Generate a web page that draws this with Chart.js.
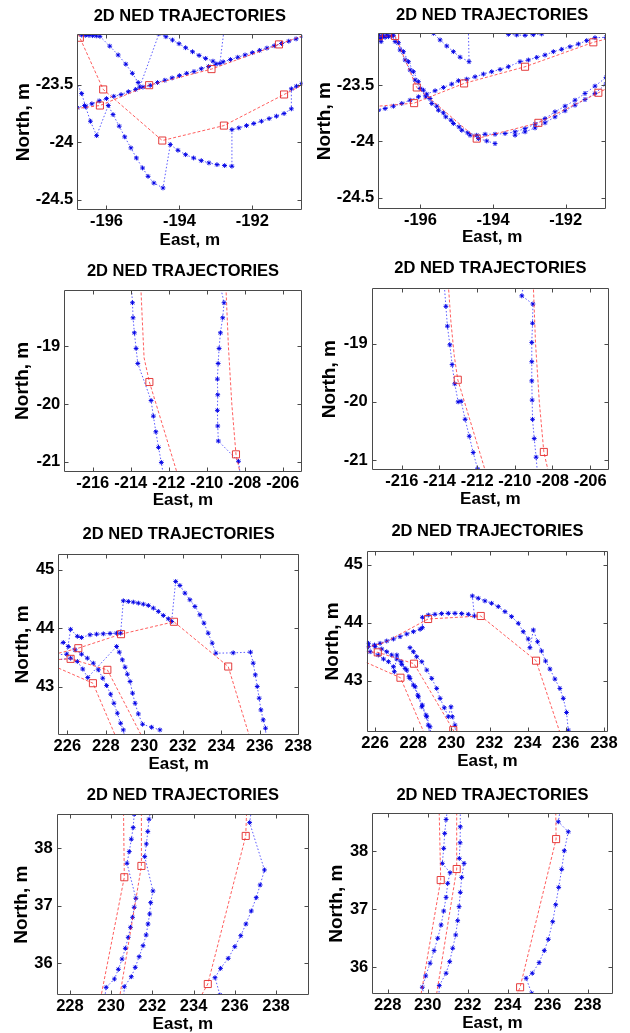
<!DOCTYPE html>
<html><head><meta charset="utf-8">
<script src="https://cdn.jsdelivr.net/npm/chart.js@4.4.1/dist/chart.umd.min.js"></script>
<style>
body{margin:0;background:#fff}
#wrap{position:relative;width:630px;height:1033px;background:#fff}
canvas{position:absolute}
</style></head><body><div id="wrap"></div>
<script>
// ---------- DATA (East, North pairs in metres) ----------
const titleText = '2D NED TRAJECTORIES';
const xLabel = 'East, m';
const yLabel = 'North, m';

// Panel 1
const p1Blue1 = [[-197.0,-23.72],[-196.8,-23.70],[-196.6,-23.68],[-196.4,-23.665],[-196.2,-23.64],[-196.0,-23.62],[-195.8,-23.60],[-195.6,-23.585],[-195.4,-23.56],[-195.2,-23.54],[-195.0,-23.52],[-194.8,-23.505],[-194.6,-23.48],[-194.4,-23.46],[-194.2,-23.44],[-194.0,-23.42],[-193.8,-23.40],[-193.6,-23.385],[-193.4,-23.36],[-193.2,-23.34],[-193.0,-23.32],[-192.8,-23.30],[-192.6,-23.28],[-192.4,-23.26],[-192.2,-23.24],[-192.0,-23.22],[-191.8,-23.20],[-191.6,-23.18],[-191.4,-23.16],[-191.2,-23.14],[-191.0,-23.12],[-190.8,-23.10],[-190.6,-23.08],[-190.4,-23.06]];
const p1Blue2 = [[-196.95,-23.066],[-196.68,-23.067],[-196.58,-23.069],[-196.48,-23.07],[-196.38,-23.072],[-196.28,-23.074],[-196.18,-23.078],[-195.91,-23.163],[-195.68,-23.24],[-195.47,-23.32],[-195.29,-23.40],[-195.13,-23.48],[-195.09,-23.52],[-194.56,-23.055],[-194.37,-23.081],[-194.19,-23.11],[-194.01,-23.142],[-193.83,-23.177],[-193.64,-23.212],[-193.46,-23.244],[-193.28,-23.27],[-193.08,-23.294],[-192.89,-23.314],[-192.76,-22.98]];
const p1Blue3 = [[-196.9,-23.42],[-196.68,-23.576],[-196.57,-23.692],[-196.44,-23.817],[-196.27,-23.942],[-195.95,-23.68],[-195.82,-23.759],[-195.65,-23.86],[-195.5,-23.953],[-195.33,-24.049],[-195.18,-24.137],[-195.01,-24.224],[-194.86,-24.297],[-194.7,-24.355],[-194.45,-24.398],[-194.25,-24.02],[-194.04,-24.07],[-193.83,-24.108],[-193.61,-24.137],[-193.4,-24.16],[-193.19,-24.18],[-192.97,-24.195],[-192.76,-24.203],[-192.56,-24.209],[-192.56,-23.89],[-192.37,-23.875],[-192.16,-23.855],[-191.96,-23.837],[-191.75,-23.817],[-191.54,-23.794],[-191.34,-23.773],[-191.13,-23.75],[-190.93,-23.709],[-190.93,-23.535],[-190.79,-23.512],[-190.64,-23.488],[-190.45,-23.46]];
const p1Red1 = [[-196.95,-22.94],[-196.73,-23.09],[-196.09,-23.54],[-194.47,-23.985],[-192.78,-23.855],[-191.13,-23.584],[-190.3,-23.448]];
const p1Red2 = [[-197.1,-23.72],[-196.8,-23.706],[-196.18,-23.68],[-194.83,-23.503],[-193.12,-23.363],[-191.27,-23.148],[-190.3,-23.035]];
const p1Marks = [[-196.73,-23.09],[-196.09,-23.54],[-194.47,-23.985],[-192.78,-23.855],[-191.13,-23.584],[-196.18,-23.68],[-194.83,-23.503],[-193.12,-23.363],[-191.27,-23.148]];

// Panel 2
const p2Blue1 = [[-197.4,-23.74],[-197.156,-23.723],[-196.972,-23.708],[-196.743,-23.687],[-196.514,-23.663],[-196.284,-23.634],[-196.055,-23.604],[-195.826,-23.58],[-195.596,-23.55],[-195.367,-23.521],[-195.138,-23.491],[-194.954,-23.461],[-194.725,-23.447],[-194.495,-23.426],[-194.266,-23.402],[-194.037,-23.381],[-193.807,-23.361],[-193.578,-23.337],[-193.257,-23.292],[-193.028,-23.277],[-192.798,-23.254],[-192.569,-23.233],[-192.339,-23.203],[-192.11,-23.182],[-191.881,-23.159],[-191.651,-23.135],[-191.422,-23.105],[-191.193,-23.079],[-190.89,-23.076],[-190.6,-23.07]];
const p2Blue2 = [[-196.9,-23.0],[-196.697,-23.114],[-196.56,-23.188],[-196.422,-23.277],[-196.284,-23.366],[-196.147,-23.455],[-196.009,-23.53],[-195.853,-23.604],[-195.688,-23.663],[-195.505,-23.723],[-195.303,-23.782],[-195.092,-23.841],[-194.862,-23.901],[-194.633,-23.945],[-194.404,-23.975],[-194.174,-23.996],[-193.945,-24.019]];
const p2Blue3 = [[-196.85,-23.0],[-196.606,-23.123],[-196.468,-23.203],[-196.33,-23.292],[-196.193,-23.381],[-196.055,-23.47],[-195.917,-23.545],[-195.734,-23.619],[-195.55,-23.687],[-195.367,-23.746],[-195.156,-23.812],[-194.936,-23.871],[-194.697,-23.924],[-194.45,-23.945],[-194.22,-23.936],[-193.945,-23.936],[-193.67,-23.93],[-193.394,-23.915],[-193.119,-23.886],[-192.844,-23.847],[-192.569,-23.797],[-192.294,-23.737],[-192.018,-23.687],[-191.743,-23.634],[-191.468,-23.574],[-191.193,-23.509],[-190.89,-23.432],[-190.6,-23.36]];
const p2Blue4 = [[-193.394,-23.945],[-193.119,-23.915],[-192.844,-23.88],[-192.569,-23.835],[-192.294,-23.782],[-192.018,-23.728],[-191.743,-23.678],[-191.468,-23.628],[-191.193,-23.574],[-190.89,-23.491],[-190.6,-23.42]];
const p2Blue5 = [[-195.7,-23.0],[-195.642,-23.04],[-195.459,-23.099],[-195.275,-23.153],[-195.092,-23.203],[-194.908,-23.252],[-194.661,-23.292],[-194.68,-23.0]];
const p2Blue6 = [[-193.8,-23.0],[-193.578,-23.049],[-193.349,-23.055],[-193.119,-23.058],[-192.89,-23.052],[-192.661,-23.046],[-192.5,-23.0]];
const p2Blue7 = [[-197.138,-23.055],[-197.11,-23.085],[-197.083,-23.114],[-197.064,-23.07],[-197.018,-23.064],[-196.972,-23.076],[-196.927,-23.055],[-196.881,-23.07],[-196.807,-23.064],[-196.743,-23.058]];
const p2Red1 = [[-197.4,-23.065],[-197.14,-23.066],[-196.697,-23.064],[-196.101,-23.521],[-194.45,-23.975],[-192.752,-23.835],[-191.101,-23.568],[-190.6,-23.487]];
const p2Red2 = [[-197.4,-23.69],[-197.156,-23.687],[-196.174,-23.66],[-194.798,-23.485],[-193.119,-23.337],[-191.239,-23.12],[-190.89,-23.091],[-190.6,-23.08]];
const p2Marks = [[-197.14,-23.066],[-196.697,-23.064],[-196.101,-23.521],[-194.45,-23.975],[-192.752,-23.835],[-191.101,-23.568],[-196.174,-23.66],[-194.798,-23.485],[-193.119,-23.337],[-191.239,-23.12]];

// Panel 3
const p3Blue1 = [[-213.98,-17.9],[-213.91,-18.25],[-213.88,-18.51],[-213.81,-18.77],[-213.72,-19.04],[-213.63,-19.3],[-212.93,-19.94],[-212.81,-20.21],[-212.68,-20.48],[-212.54,-20.75],[-212.39,-21.01],[-212.25,-21.3]];
const p3Blue2 = [[-209.32,-17.9],[-209.09,-18.25],[-209.16,-18.51],[-209.28,-18.77],[-209.35,-19.04],[-209.4,-19.3],[-209.44,-19.57],[-209.42,-19.84],[-209.44,-20.11],[-209.42,-20.38],[-209.39,-20.64],[-208.33,-20.99],[-208.2,-21.3]];
const p3Red1 = [[-213.48,-17.9],[-213.4,-18.5],[-213.3,-19.2],[-213.02,-19.62],[-211.46,-21.3]];
const p3Red2 = [[-209.0,-17.9],[-208.86,-19.0],[-208.68,-20.0],[-208.46,-20.87],[-208.17,-21.3]];
const p3Marks = [[-213.02,-19.62],[-208.46,-20.87]];

// Panel 4
const p4Blue1 = [[-213.77,-17.9],[-213.66,-18.36],[-213.58,-18.7],[-213.45,-19.02],[-213.33,-19.36],[-213.19,-19.69],[-213.01,-20.0],[-212.85,-19.99],[-212.64,-20.3],[-212.42,-20.59],[-212.21,-20.87],[-211.98,-21.15],[-211.95,-21.3]];
const p4Blue2 = [[-209.5,-17.9],[-209.63,-18.18],[-209.04,-18.32],[-209.06,-18.65],[-209.1,-18.98],[-209.1,-19.31],[-209.1,-19.64],[-209.08,-19.97],[-209.06,-20.3],[-208.97,-20.63],[-208.87,-20.95],[-208.78,-21.3]];
const p4Red1 = [[-213.55,-17.9],[-213.4,-18.6],[-213.22,-19.2],[-213.03,-19.62],[-211.46,-21.3]];
const p4Red2 = [[-209.03,-17.9],[-208.9,-19.0],[-208.7,-20.0],[-208.46,-20.86],[-208.15,-21.3]];
const p4Marks = [[-213.03,-19.62],[-208.46,-20.86]];

// Panel 5
const p5Blue1 = [[225.3,43.54],[225.97,43.554],[226.17,43.98],[226.52,43.86],[226.74,43.84],[227.18,43.886],[227.52,43.897],[227.87,43.903],[228.22,43.909],[228.56,43.914],[228.77,43.914],[228.91,44.469],[229.17,44.457],[229.43,44.446],[229.69,44.429],[229.95,44.411],[230.21,44.389],[230.47,44.343],[230.73,44.286],[230.99,44.217],[231.25,44.16],[231.42,44.114],[231.63,44.8],[231.85,44.731],[232.11,44.6],[232.37,44.486],[232.63,44.371],[232.89,44.229],[233.1,44.086],[233.32,43.914],[233.53,43.743],[233.72,43.571],[234.62,43.577],[235.52,43.589],[235.66,43.4],[235.77,43.2],[235.87,43.0],[235.97,42.8],[236.06,42.6],[236.18,42.429],[236.3,42.286],[236.35,42.0]];
const p5Blue2 = [[225.3,43.45],[226.17,43.486],[226.52,43.43],[226.8,43.3],[227.06,43.154],[228.56,43.686],[228.7,43.589],[228.86,43.457],[229.0,43.331],[229.12,43.211],[229.26,43.086],[229.39,42.886],[229.52,42.714],[229.69,42.531],[229.91,42.354],[230.38,42.303],[230.81,42.257]];
const p5Blue3 = [[225.3,43.7],[225.79,43.754],[226.05,43.686],[226.4,43.629],[226.74,43.554],[227.04,43.486],[227.35,43.4],[227.61,43.286],[227.84,43.143],[228.04,43.017],[228.25,42.869],[228.42,42.714],[228.6,42.543],[228.77,42.371],[228.91,42.257],[229.0,42.1]];
const p5Red1 = [[225.3,43.55],[226.57,43.657],[228.79,43.897],[231.54,44.109],[234.36,43.343],[235.6,42.0]];
const p5Red2 = [[225.3,43.46],[226.17,43.474],[228.08,43.286],[230.1,42.0]];
const p5Red3 = [[225.3,43.35],[227.33,43.057],[228.7,42.0]];
const p5Marks = [[226.17,43.474],[226.57,43.657],[227.33,43.057],[228.08,43.286],[228.79,43.897],[231.54,44.109],[234.36,43.343]];

// Panel 6
const p6Blue1 = [[225.3,43.57],[225.65,43.588],[225.97,43.617],[226.26,43.646],[226.61,43.686],[226.96,43.72],[227.31,43.761],[227.66,43.807],[228.01,43.847],[228.36,43.888],[228.48,43.916],[228.48,44.095],[228.79,44.135],[229.14,44.147],[229.49,44.159],[229.84,44.164],[230.19,44.164],[230.54,44.159],[230.89,44.147],[231.21,44.118],[231.1,44.464],[231.41,44.424],[231.76,44.378],[232.11,44.337],[232.46,44.28],[232.81,44.193],[233.16,44.107],[233.51,43.991],[233.77,43.847],[234.03,43.72],[234.12,43.571],[234.3,43.876],[234.52,43.674],[234.73,43.513],[234.94,43.34],[235.17,43.202],[235.43,43.029],[235.69,42.867],[235.87,42.695],[236.04,42.452],[236.13,42.147],[236.16,42.0]];
const p6Blue2 = [[225.3,43.66],[225.65,43.646],[226.0,43.588],[226.35,43.548],[226.61,43.501],[226.87,43.444],[227.14,43.375],[227.4,43.282],[227.66,43.184],[227.83,43.04],[228.1,42.896],[228.27,42.723],[228.45,42.55],[228.71,42.378],[228.88,42.205],[228.95,42.0]];
const p6Blue3 = [[225.3,43.52],[225.74,43.501],[226.17,43.444],[226.44,43.375],[226.7,43.329],[226.96,43.242],[227.01,43.156],[227.14,43.444],[227.36,43.329],[227.57,43.213],[227.78,43.069],[228.01,42.925],[228.24,42.752],[228.48,42.579],[228.67,42.406],[228.79,42.233],[228.9,42.0]];
const p6Blue4 = [[227.83,43.571],[228.01,43.501],[228.18,43.415],[228.45,43.329],[228.71,43.184],[228.97,43.04],[229.23,42.867],[229.41,42.695],[229.63,42.533],[229.84,42.378],[229.98,42.55],[230.05,42.378],[230.19,42.233],[230.25,42.0]];
const p6Red1 = [[225.3,43.55],[226.5,43.66],[228.78,44.066],[231.54,44.118],[234.44,43.346],[235.8,42.0]];
const p6Red2 = [[225.3,43.5],[226.14,43.49],[228.04,43.294],[230.1,42.147],[230.35,42.0]];
const p6Red3 = [[225.3,43.35],[227.33,43.052],[228.7,42.0]];
const p6Marks = [[226.14,43.49],[227.33,43.052],[228.04,43.294],[228.78,44.066],[231.54,44.118],[234.44,43.346],[230.1,42.147]];

// Panel 7
const p7Blue1 = [[231.15,38.7],[231.12,38.591],[231.07,38.359],[230.98,38.157],[230.88,37.942],[230.77,37.739],[231.2,37.13],[231.12,36.974],[231.04,36.8],[230.94,36.626],[230.83,36.452],[230.69,36.261],[230.53,36.075],[230.35,35.896],[230.16,35.728],[229.76,35.583],[229.65,35.3]];
const p7Blue2 = [[231.95,38.7],[231.84,38.504],[231.78,38.29],[231.71,38.075],[231.63,37.855],[232.03,37.258],[231.92,37.055],[231.87,36.858],[231.79,36.684],[231.7,36.493],[231.55,36.307],[231.36,36.116],[231.17,35.93],[230.98,35.768],[230.64,35.594],[230.6,35.3]];
const p7Blue3 = [[236.82,38.7],[236.72,38.446],[237.44,37.623],[237.23,37.362],[237.04,37.142],[236.8,36.91],[236.54,36.684],[236.29,36.481],[236.0,36.29],[235.68,36.087],[235.31,35.913],[235.04,35.751],[235.28,35.449],[235.33,35.3]];
const p7Red1 = [[230.6,38.7],[230.64,37.496],[229.44,35.3]];
const p7Red2 = [[231.47,38.7],[231.47,37.693],[230.36,35.3]];
const p7Red3 = [[236.58,38.7],[236.53,38.214],[234.69,35.641],[234.15,35.3]];
const p7Marks = [[230.64,37.496],[231.47,37.693],[236.53,38.214],[234.69,35.641]];

// Panel 8
const p8Blue1 = [[231.0,38.75],[230.92,38.544],[230.85,38.304],[230.8,38.046],[230.73,37.788],[231.12,37.628],[231.0,37.444],[230.92,37.203],[230.8,36.968],[230.67,36.728],[230.5,36.499],[230.32,36.287],[230.12,36.069],[229.9,35.851],[229.73,35.656],[229.9,35.4]];
const p8Blue2 = [[231.63,38.75],[231.63,38.418],[231.62,38.143],[231.58,37.874],[231.82,37.788],[231.7,37.547],[231.63,37.289],[231.57,37.043],[231.5,36.802],[231.4,36.556],[231.25,36.327],[231.1,36.097],[230.92,35.897],[230.58,35.685],[230.55,35.4]];
const p8Blue3 = [[236.65,38.75],[236.53,38.504],[237.03,38.332],[236.83,38.006],[236.7,37.685],[236.55,37.375],[236.4,37.077],[236.25,36.785],[236.03,36.481],[235.83,36.287],[235.57,36.08],[235.23,35.897],[234.92,35.811],[235.2,35.553],[235.25,35.4]];
const p8Red1 = [[230.57,38.75],[230.65,37.501],[229.6,35.4]];
const p8Red2 = [[231.45,38.75],[231.45,37.691],[230.38,35.4]];
const p8Red3 = [[236.4,38.75],[236.42,38.206],[234.62,35.656],[234.3,35.4]];
const p8Marks = [[230.65,37.501],[231.45,37.691],[236.42,38.206],[234.62,35.656]];

// Axis ranges and tick steps
const xRanges = [[-196.8,-190.63],[-197.16,-190.89],[-217.5,-205.0],[-217.6,-205.0],[225.53,238.04],[225.56,238.23],[227.36,239.6],[227.23,239.25]];
const yRanges = [[-24.59,-23.06],[-24.60,-23.04],[-21.17,-18.03],[-21.17,-18.05],[42.17,45.27],[42.12,45.24],[35.45,38.59],[35.54,38.65]];
const xSteps = [2,2,2,2,2,2,2,2];
const ySteps = [0.5,0.5,1,1,1,1,1,1];

// ---------- LAYOUT (page geometry, px) ----------
const geoms = [
 {cx:0,cy:0,cw:315,ch:255,L:77.3,T:34.3,R:302.3,B:210,titleY:16.7,northX:24,eastY:240.7},
 {cx:315,cy:0,cw:315,ch:255,L:378.3,T:33.3,R:606,B:209,titleY:15.5,northX:325,eastY:237.5},
 {cx:0,cy:255,cw:315,ch:260,L:64.3,T:290,R:301.7,B:471.7,titleY:271,northX:23,eastY:500},
 {cx:315,cy:255,cw:315,ch:260,L:371.7,T:288.3,R:609,B:470,titleY:268,northX:330,eastY:499},
 {cx:0,cy:515,cw:315,ch:265,L:58.3,T:554,R:299,B:735,titleY:534.7,northX:23,eastY:764},
 {cx:315,cy:515,cw:315,ch:265,L:366.7,T:551,R:608.3,B:731.7,titleY:531.3,northX:332.5,eastY:761},
 {cx:0,cy:780,cw:315,ch:253,L:56.7,T:814.3,R:311.7,B:995,titleY:795,northX:21.7,eastY:1024},
 {cx:315,cy:780,cw:315,ch:253,L:372.3,T:813.3,R:612.7,B:994,titleY:795,northX:337,eastY:1023}
];
const panelBlue = [[p1Blue1,p1Blue2,p1Blue3],[p2Blue1,p2Blue2,p2Blue3,p2Blue4,p2Blue5,p2Blue6,p2Blue7],[p3Blue1,p3Blue2],[p4Blue1,p4Blue2],[p5Blue1,p5Blue2,p5Blue3],[p6Blue1,p6Blue2,p6Blue3,p6Blue4],[p7Blue1,p7Blue2,p7Blue3],[p8Blue1,p8Blue2,p8Blue3]];
const panelRed = [[p1Red1,p1Red2],[p2Red1,p2Red2],[p3Red1,p3Red2],[p4Red1,p4Red2],[p5Red1,p5Red2,p5Red3],[p6Red1,p6Red2,p6Red3],[p7Red1,p7Red2,p7Red3],[p8Red1,p8Red2,p8Red3]];
const panelMarks = [p1Marks,p2Marks,p3Marks,p4Marks,p5Marks,p6Marks,p7Marks,p8Marks];

const FONT = "'Liberation Sans', Arial, Helvetica, sans-serif";
const toXY = arr => arr.map(([x,y]) => ({x, y}));

const framePlugin = {
  id: 'frame',
  afterDatasetsDraw(chart) {
    const {ctx, chartArea: a, scales: {x, y}} = chart;
    ctx.save();
    ctx.strokeStyle = '#4a4a4a';
    ctx.lineWidth = 1;
    const l = Math.round(a.left) + 0.5, r = Math.round(a.right) - 0.5;
    const t = Math.round(a.top) + 0.5, b = Math.round(a.bottom) - 0.5;
    ctx.beginPath();
    ctx.rect(l, t, r - l, b - t);
    x.ticks.forEach(tk => {
      const px = Math.round(x.getPixelForValue(tk.value)) + 0.5;
      ctx.moveTo(px, b); ctx.lineTo(px, b - 4);
      ctx.moveTo(px, t); ctx.lineTo(px, t + 4);
    });
    y.ticks.forEach(tk => {
      const py = Math.round(y.getPixelForValue(tk.value)) + 0.5;
      ctx.moveTo(l, py); ctx.lineTo(l + 4, py);
      ctx.moveTo(r, py); ctx.lineTo(r - 4, py);
    });
    ctx.stroke();
    ctx.restore();
  }
};

const wrap = document.getElementById('wrap');
geoms.forEach((g, i) => {
  const cv = document.createElement('canvas');
  cv.width = g.cw; cv.height = g.ch;
  cv.style.left = g.cx + 'px'; cv.style.top = g.cy + 'px';
  cv.style.width = g.cw + 'px'; cv.style.height = g.ch + 'px';
  wrap.appendChild(cv);
  const datasets = [];
  panelRed[i].forEach(tr => datasets.push({
    data: toXY(tr), showLine: true, borderColor: 'rgba(255,40,40,0.75)', borderWidth: 1,
    borderDash: [3, 2], pointRadius: 0, clip: 0
  }));
  datasets.push({
    data: toXY(panelMarks[i]), showLine: false, pointStyle: 'rect', pointRadius: 5,
    pointBorderColor: 'rgba(225,40,40,0.9)', pointBackgroundColor: 'rgba(255,255,255,0)',
    pointBorderWidth: 1, clip: 0
  });
  panelBlue[i].forEach(tr => datasets.push({
    data: toXY(tr), showLine: true, borderColor: 'rgba(20,20,255,0.7)', borderWidth: 1,
    borderDash: [1.5, 2], pointStyle: 'star', pointRadius: 2.4,
    pointBorderColor: 'rgba(0,0,230,0.95)', pointBackgroundColor: 'rgba(0,0,230,0.95)',
    pointBorderWidth: 1, clip: 0
  }));
  new Chart(cv, {
    type: 'scatter',
    data: {datasets},
    options: {
      responsive: false, animation: false, devicePixelRatio: 1,
      events: [],
      layout: {padding: {left: 0, right: g.cx + g.cw - g.R, top: g.titleY - g.cy - 8.25, bottom: 0}},
      plugins: {
        legend: {display: false}, tooltip: {enabled: false},
        title: {display: true, text: titleText, fullSize: false, color: '#000',
          font: {family: FONT, size: 16.5, weight: 'bold', lineHeight: 1},
          padding: {top: 0, bottom: g.T - g.titleY - 8.25}}
      },
      scales: {
        x: {
          type: 'linear', position: 'bottom', min: xRanges[i][0], max: xRanges[i][1],
          afterFit(s) { s.height = g.cy + g.ch - g.B; s.paddingLeft = 0; s.paddingRight = 0; },
          ticks: {stepSize: xSteps[i], includeBounds: false, autoSkip: false, maxRotation: 0, minRotation: 0,
            padding: 3.5, color: '#000', font: {family: FONT, size: 16.5, weight: 'bold', lineHeight: 1},
            callback: v => String(v)},
          grid: {display: false, drawTicks: false},
          border: {display: false},
          title: {display: true, text: xLabel, color: '#000',
            font: {family: FONT, size: 17, weight: 'bold', lineHeight: 1},
            padding: {top: 0, bottom: g.cy + g.ch - g.eastY - 8.5}}
        },
        y: {
          type: 'linear', position: 'left', min: yRanges[i][0], max: yRanges[i][1],
          afterFit(s) { s.width = g.L - g.cx; s.paddingTop = 0; s.paddingBottom = 0; },
          ticks: {stepSize: ySteps[i], includeBounds: false, autoSkip: false,
            padding: 4, color: '#000', font: {family: FONT, size: 16.5, weight: 'bold', lineHeight: 1},
            callback: v => String(v)},
          grid: {display: false, drawTicks: false},
          border: {display: false},
          title: {display: true, text: yLabel, color: '#000',
            font: {family: FONT, size: 19, weight: 'bold', lineHeight: 1},
            padding: {top: g.northX - g.cx - 9.5, bottom: 0}}
        }
      }
    },
    plugins: [framePlugin]
  });
});
</script></body></html>
